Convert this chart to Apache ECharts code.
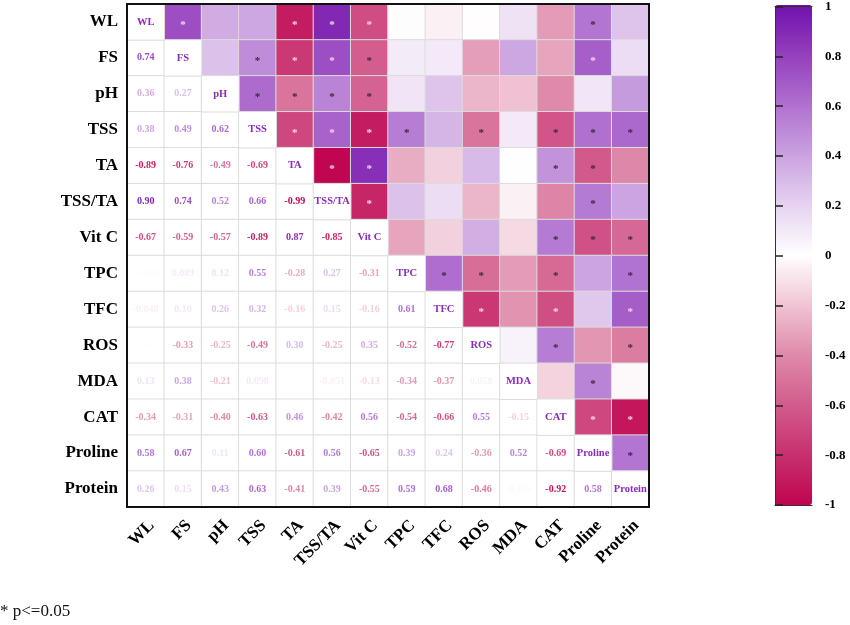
<!DOCTYPE html>
<html><head><meta charset="utf-8">
<script src="https://cdn.jsdelivr.net/npm/echarts@6/dist/echarts.min.js"></script>
<style>html,body{margin:0;padding:0;background:#fff}#c{width:850px;height:625px}</style>
</head><body><div id="c"></div>
<script>
// Variables (top-to-bottom / left-to-right)
const variables = ['WL','FS','pH','TSS','TA','TSS/TA','Vit C','TPC','TFC','ROS','MDA','CAT','Proline','Protein'];

// Lower-triangle correlation values (row variable vs. earlier columns)
const r_WL      = [];
const r_FS      = [0.74];
const r_pH      = [0.36, 0.27];
const r_TSS     = [0.38, 0.49, 0.62];
const r_TA      = [-0.89, -0.76, -0.49, -0.69];
const r_TSSTA   = [0.90, 0.74, 0.52, 0.66, -0.99];
const r_VitC    = [-0.67, -0.59, -0.57, -0.89, 0.87, -0.85];
const r_TPC     = [0.008, 0.089, 0.12, 0.55, -0.28, 0.27, -0.31];
const r_TFC     = [-0.048, 0.10, 0.26, 0.32, -0.16, 0.15, -0.16, 0.61];
const r_ROS     = [-0.006, -0.33, -0.25, -0.49, 0.30, -0.25, 0.35, -0.52, -0.77];
const r_MDA     = [0.13, 0.38, -0.21, 0.098, 0.004, -0.051, -0.13, -0.34, -0.37, 0.058];
const r_CAT     = [-0.34, -0.31, -0.40, -0.63, 0.46, -0.42, 0.56, -0.54, -0.66, 0.55, -0.15];
const r_Proline = [0.58, 0.67, 0.11, 0.60, -0.61, 0.56, -0.65, 0.39, 0.24, -0.36, 0.52, -0.69];
const r_Protein = [0.26, 0.15, 0.43, 0.63, -0.41, 0.39, -0.55, 0.59, 0.68, -0.46, -0.025, -0.92, 0.58];

// Significance flags (p<=0.05), same shape as above
const s_WL      = [];
const s_FS      = [1];
const s_pH      = [0,0];
const s_TSS     = [0,1,1];
const s_TA      = [1,1,1,1];
const s_TSSTA   = [1,1,1,1,1];
const s_VitC    = [1,1,1,1,1,1];
const s_TPC     = [0,0,0,1,0,0,0];
const s_TFC     = [0,0,0,0,0,0,0,1];
const s_ROS     = [0,0,0,1,0,0,0,1,1];
const s_MDA     = [0,0,0,0,0,0,0,0,0,0];
const s_CAT     = [0,0,0,1,1,0,1,1,1,1,0];
const s_Proline = [1,1,0,1,1,1,1,0,0,0,1,1];
const s_Protein = [0,0,0,1,0,0,1,1,1,1,0,1,1];

const colorbarTicks = [-1,-0.8,-0.6,-0.4,-0.2,0,0.2,0.4,0.6,0.8,1];
const paletteColors = ['#c0044f','#c8306e','#d25c8c','#df8aaa','#f0c4d4','#ffffff','#e6d2f0','#caa2e0','#b070d0','#9440bc','#7010ae'];

const rowsR = [r_WL,r_FS,r_pH,r_TSS,r_TA,r_TSSTA,r_VitC,r_TPC,r_TFC,r_ROS,r_MDA,r_CAT,r_Proline,r_Protein];
const rowsS = [s_WL,s_FS,s_pH,s_TSS,s_TA,s_TSSTA,s_VitC,s_TPC,s_TFC,s_ROS,s_MDA,s_CAT,s_Proline,s_Protein];

function hex2rgb(h){return [parseInt(h.substr(1,2),16),parseInt(h.substr(3,2),16),parseInt(h.substr(5,2),16)];}
function cmap(v){
  const t = Math.max(0, Math.min(1,(v+1)/2)) * (paletteColors.length-1);
  const i = Math.min(Math.floor(t), paletteColors.length-2), f = t - i;
  const a = hex2rgb(paletteColors[i]), b = hex2rgb(paletteColors[i+1]);
  const c = a.map((x,k)=>Math.round(x+(b[k]-x)*f));
  return 'rgb('+c.join(',')+')';
}
function fmt(v){ return Math.abs(v) >= 0.1 ? v.toFixed(2) : v.toPrecision(2); }

const FONT = "'Liberation Serif','Times New Roman',serif";
const upper = [], lower = [], diag = [];
for (let i=0;i<variables.length;i++){
  diag.push([i,i,1]);
  for (let j=0;j<i;j++){
    const v = rowsR[i][j], s = rowsS[i][j];
    lower.push({value:[j,i,v], label:{color:cmap(v)}});
    upper.push({value:[i,j,v], sig:s, label:{color: Math.abs(v)>=0.66 ? '#f6d6ea' : '#3a2440'}});
  }
}

const chart = echarts.init(document.getElementById('c'));
chart.setOption({
  animation:false,
  title:{text:'* p<=0.05', left:0, top:603, padding:0, textStyle:{fontFamily:FONT, fontWeight:'normal', fontSize:17, color:'#111'}},
  grid:[
    {left:127, top:4, width:522, height:503},
    {left:775, top:5, width:37, height:500}
  ],
  xAxis:[
    {type:'category', data:variables, gridIndex:0, position:'bottom', z:10,
     axisLine:{onZero:false, lineStyle:{color:'#111', width:2}}, axisTick:{show:false},
     axisLabel:{rotate:45, interval:0, margin:10, verticalAlign:'top', fontFamily:FONT, fontWeight:'bold', fontSize:17, color:'#000'},
     splitLine:{show:false}},
    {type:'category', data:variables, gridIndex:0, position:'top', z:10,
     axisLine:{onZero:false, lineStyle:{color:'#111', width:2}}, axisTick:{show:false}, axisLabel:{show:false}},
    {type:'value', gridIndex:1, min:0, max:1, position:'bottom', zlevel:1, z:10,
     axisLine:{show:true, onZero:false, lineStyle:{color:'#333', width:1}}, axisTick:{show:false}, axisLabel:{show:false}, splitLine:{show:false}},
    {type:'value', gridIndex:1, min:0, max:1, position:'top', zlevel:1, z:10,
     axisLine:{show:true, onZero:false, lineStyle:{color:'#333', width:1}}, axisTick:{show:false}, axisLabel:{show:false}, splitLine:{show:false}}
  ],
  yAxis:[
    {type:'category', data:variables, inverse:true, gridIndex:0, position:'left', z:10,
     axisLine:{onZero:false, lineStyle:{color:'#111', width:2}}, axisTick:{show:false},
     axisLabel:{interval:0, margin:9, fontFamily:FONT, fontWeight:'bold', fontSize:17, color:'#000'}},
    {type:'category', data:variables, inverse:true, gridIndex:0, position:'right', z:10,
     axisLine:{onZero:false, lineStyle:{color:'#111', width:2}}, axisTick:{show:false}, axisLabel:{show:false}},
    {type:'value', gridIndex:1, min:-1, max:1, interval:0.2, position:'right', zlevel:1, z:10,
     axisLine:{show:true, lineStyle:{color:'#333', width:1}},
     axisTick:{show:true, inside:false, length:8, lineStyle:{color:'#222', width:1.5}},
     axisLabel:{show:true, margin:13, fontFamily:FONT, fontWeight:'bold', fontSize:13, color:'#000',
       formatter: v => String(parseFloat(Number(v).toFixed(1)))},
     splitLine:{show:false}},
    {type:'value', gridIndex:1, min:-1, max:1, position:'left', zlevel:1, z:10,
     axisLine:{show:true, onZero:false, lineStyle:{color:'#333', width:1}}, axisTick:{show:false}, axisLabel:{show:false}, splitLine:{show:false}}
  ],
  visualMap:{
    type:'continuous', min:-1, max:1, seriesIndex:0, dimension:2,
    left:775, top:5, itemWidth:37, itemHeight:500, padding:0, z:1,
    calculable:false, hoverLink:false, text:null, showLabel:false,
    inRange:{color:paletteColors}
  },
  series:[
    {type:'heatmap', xAxisIndex:0, yAxisIndex:0, data:upper,
     itemStyle:{borderColor:'#dcdcdc', borderWidth:1},
     label:{show:true, fontFamily:FONT, fontWeight:'bold', fontSize:11, offset:[0,3],
       formatter: p => p.data.sig ? '*' : ''}},
    {type:'heatmap', xAxisIndex:0, yAxisIndex:0, data:lower,
     itemStyle:{color:'#ffffff', borderColor:'#dcdcdc', borderWidth:1},
     label:{show:true, fontFamily:FONT, fontWeight:'bold', fontSize:10,
       formatter: p => fmt(p.value[2])}},
    {type:'heatmap', xAxisIndex:0, yAxisIndex:0, data:diag,
     itemStyle:{color:'#ffffff', borderColor:'#dcdcdc', borderWidth:1},
     label:{show:true, fontFamily:FONT, fontWeight:'bold', fontSize:10.5, color:'#8a2cb8',
       formatter: p => variables[p.value[0]]}},
    {type:'scatter', xAxisIndex:2, yAxisIndex:2, data:[[0.5,0]], symbolSize:0, silent:true}
  ]
});
</script></body></html>
